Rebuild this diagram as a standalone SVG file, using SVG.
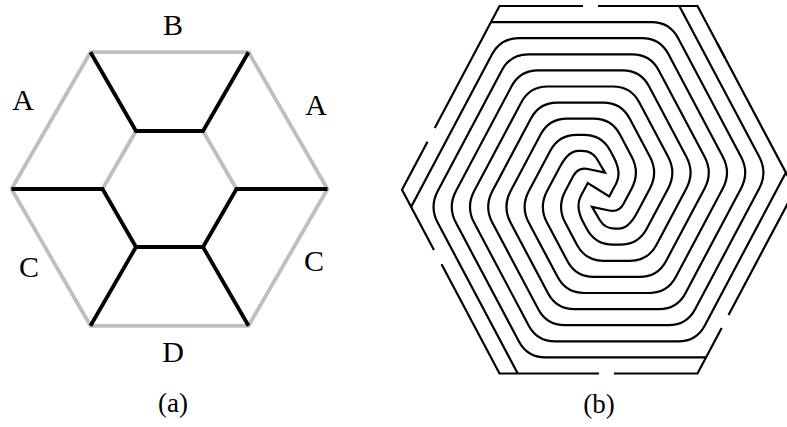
<svg xmlns="http://www.w3.org/2000/svg" width="787" height="427" viewBox="0 0 787 427">
<style>
  .g { fill: none; stroke: #bebebe; stroke-width: 3.8; stroke-linejoin: miter; }
  .k { fill: none; stroke: #000; stroke-width: 3.8; stroke-linejoin: miter; stroke-linecap: butt; }
  .w { fill: none; stroke: #000; stroke-width: 2.2; stroke-linejoin: miter; stroke-linecap: butt; }
  .lbl { font-family: "Liberation Serif", "Times New Roman", serif; font-size: 30px; fill: #000; text-anchor: middle; }
  .cap { font-family: "Liberation Serif", "Times New Roman", serif; font-size: 27px; fill: #000; text-anchor: middle; }
</style>
<rect width="787" height="427" fill="#fff"/>

<g id="panel-a">
  <g id="a-gray">
    <polygon class="g" points="90.5,52.2 248.5,52.2 327.5,189 248.5,325.8 90.5,325.8 11.5,189"/>
    <path class="g" d="M102.5 189 L136 131 M203 131 L236.5 189"/>
  </g>
  <g id="a-black">
    <path class="k" d="M90.5 52.2 L136 131 L203 131 L248.5 52.2"/>
    <path class="k" d="M11.5 189 L102.5 189 L136 247 L203 247 L236.5 189 L327.5 189"/>
    <path class="k" d="M136 247 L90.5 325.8 M203 247 L248.5 325.8"/>
  </g>
  <g id="a-labels">
    <text class="lbl" x="173" y="35">B</text>
    <text class="lbl" x="23" y="110">A</text>
    <text class="lbl" x="316" y="115">A</text>
    <text class="lbl" x="29" y="277">C</text>
    <text class="lbl" x="314" y="271">C</text>
    <text class="lbl" x="173" y="362">D</text>
    <text class="cap" x="173" y="412">(a)</text>
  </g>
</g>

<g id="panel-b">
  <g id="b-outer">
    <path class="w" d="M583 6 L499.5 6 L434.76 128"/>
    <path class="w" d="M427.5 141.7 L402 189.75 L433.97 250"/>
    <path class="w" d="M441.56 264.3 L499.5 373.5 L599 373.5"/>
    <path class="w" d="M614 373.5 L697.5 373.5 L721.65 328"/>
    <path class="w" d="M728.54 315 L795 189.75 L717.29 43.3"/>
    <path class="w" d="M724.93 57.7 L697.5 6 L598 6"/>
  </g>
  <g id="b-spiral">
    <path class="w" d="M490.96 22.1 L651.6 22.1 Q669.6 22.1 678.04 38 L741.02 156.68 Q749.46 172.58 741.02 188.48 L685.44 293.2 Q677 309.1 659 309.1 L574.44 309.1 Q556.44 309.1 548 293.2 L510.64 222.82 Q502.2 206.92 510.64 191.02 L540.6 134.6 Q549.04 118.7 567.04 118.7 L593.52 118.7 Q611.52 118.7 619.96 134.6 L631.7 156.68 Q640.14 172.58 631.7 188.48 L623.61 203.67 Q618.92 212.5 609.13 210.46 L592 206.9 L599.75 219.99 Q604.84 228.6 614.84 228.6 L618.6 228.6 Q628.6 228.6 637.04 212.7 L649.92 188.48 Q658.36 172.58 649.92 156.68 L629.64 118.5 Q621.2 102.6 603.2 102.6 L557.36 102.6 Q539.36 102.6 530.92 118.5 L492.42 191.02 Q483.98 206.92 492.42 222.82 L538.32 309.3 Q546.76 325.2 564.76 325.2 L668.68 325.2 Q686.68 325.2 695.12 309.3 L759.24 188.48 Q767.68 172.58 759.24 156.68 L679.28 6"/>
    <path class="w" d="M517.72 373.5 L437.76 222.82 Q429.32 206.92 437.76 191.02 L501.88 70.2 Q510.32 54.3 528.32 54.3 L632.24 54.3 Q650.24 54.3 658.68 70.2 L704.58 156.68 Q713.02 172.58 704.58 188.48 L666.08 261 Q657.64 276.9 639.64 276.9 L593.8 276.9 Q575.8 276.9 567.36 261 L547.08 222.82 Q538.64 206.92 547.08 191.02 L559.96 166.8 Q568.4 150.9 578.4 150.9 L582.16 150.9 Q592.16 150.9 597.25 159.51 L605 172.6 L587.87 169.04 Q578.08 167 573.39 175.83 L565.3 191.02 Q556.86 206.92 565.3 222.82 L577.04 244.9 Q585.48 260.8 603.48 260.8 L629.96 260.8 Q647.96 260.8 656.4 244.9 L686.36 188.48 Q694.8 172.58 686.36 156.68 L649 86.3 Q640.56 70.4 622.56 70.4 L538 70.4 Q520 70.4 511.56 86.3 L455.98 191.02 Q447.54 206.92 455.98 222.82 L518.96 341.5 Q527.4 357.4 545.4 357.4 L706.04 357.4"/>
    <path class="w" d="M411.1 206.92 L492.2 54.1 Q500.64 38.2 518.64 38.2 L641.92 38.2 Q659.92 38.2 668.36 54.1 L722.8 156.68 Q731.24 172.58 722.8 188.48 L675.76 277.1 Q667.32 293 649.32 293 L584.12 293 Q566.12 293 557.68 277.1 L528.86 222.82 Q520.42 206.92 528.86 191.02 L550.28 150.7 Q558.72 134.8 576.72 134.8 L583.84 134.8 Q601.84 134.8 610.28 150.7 L613.48 156.68 Q621.92 172.58 616.29 183.18 L609.24 196.4 L587.76 183.1 L580.71 196.32 Q575.08 206.92 583.52 222.82 L586.72 228.8 Q595.16 244.7 613.16 244.7 L620.28 244.7 Q638.28 244.7 646.72 228.8 L668.14 188.48 Q676.58 172.58 668.14 156.68 L639.32 102.4 Q630.88 86.5 612.88 86.5 L547.68 86.5 Q529.68 86.5 521.24 102.4 L474.2 191.02 Q465.76 206.92 474.2 222.82 L528.64 325.4 Q537.08 341.3 555.08 341.3 L678.36 341.3 Q696.36 341.3 704.8 325.4 L785.9 172.58"/>
  </g>
  <g id="b-label">
    <text class="cap" x="599" y="413">(b)</text>
  </g>
</g>
</svg>
